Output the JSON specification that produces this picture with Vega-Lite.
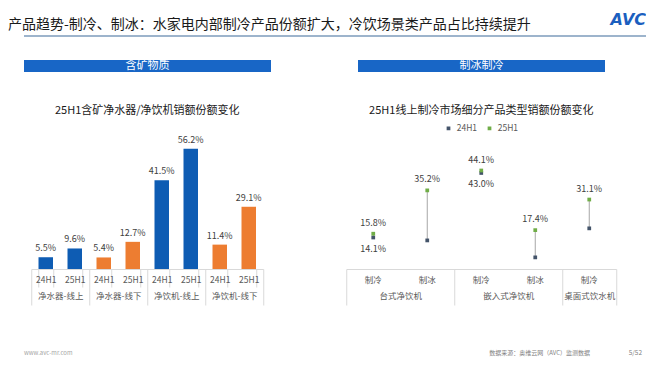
{
  "$schema": "https://vega.github.io/schema/vega-lite/v6.json",
  "background": "white",
  "padding": {"left": 8, "top": 12, "right": 0, "bottom": 0},
  "title": {"text": "产品趋势-制冷、制冰：水家电内部制冷产品份额扩大，冷饮场景类产品占比持续提升", "anchor": "start", "dx": -16, "fontSize": 14, "offset": -20, "color": "#1a1a1a", "fontWeight": "normal"},
  "config": {
    "view": {"stroke": null},
    "font": "Noto Sans CJK SC",
    "title": {"font": "Noto Sans CJK SC", "fontWeight": "normal", "color": "#1a1a1a"},
    "axis": {"labelFont": "Noto Sans CJK SC"},
    "legend": {"layout": {"top": {"anchor": "middle"}}}
  },
  "spacing": 23,
  "resolve": {"scale": {"color": "independent"}, "legend": {"color": "independent"}},
  "vconcat": [
    {
      "width": 622,
      "height": 2,
      "data": {"values": [{"logo": "AVC"}]},
      "layer": [
        {"mark": {"type": "rect", "color": "#9db4cc"}, "encoding": {}},
        {"mark": {"type": "text", "align": "right", "baseline": "middle", "dx": 311, "dy": -16, "fontSize": 16, "fontWeight": "bold", "fontStyle": "italic", "color": "#1b5fbf", "font": "DejaVu Sans"}, "encoding": {"text": {"field": "logo"}}}
      ]
    },
    {
      "spacing": 72,
      "resolve": {"scale": {"color": "independent"}, "legend": {"color": "independent"}},
      "hconcat": [
        {
          "spacing": 33,
          "center": true,
          "vconcat": [
            {
              "width": 247,
              "height": 12,
              "data": {"values": [{"t": "含矿物质"}]},
              "layer": [
                {"mark": {"type": "rect", "color": "#1866c6"}, "encoding": {}},
                {"mark": {"type": "text", "color": "white", "fontSize": 11, "baseline": "middle"}, "encoding": {"text": {"field": "t"}}}
              ]
            },
            {
              "width": 232,
              "height": 139,
              "title": {"text": "25H1含矿净水器/净饮机销额份额变化", "fontSize": 11, "offset": 14},
              "data": {"values": [
                {"group": "净水器-线上", "period": "24H1", "channel": "线上", "bar": "净水器-线上|24H1", "share": 0.055},
                {"group": "净水器-线上", "period": "25H1", "channel": "线上", "bar": "净水器-线上|25H1", "share": 0.096},
                {"group": "净水器-线下", "period": "24H1", "channel": "线下", "bar": "净水器-线下|24H1", "share": 0.054},
                {"group": "净水器-线下", "period": "25H1", "channel": "线下", "bar": "净水器-线下|25H1", "share": 0.127},
                {"group": "净饮机-线上", "period": "24H1", "channel": "线上", "bar": "净饮机-线上|24H1", "share": 0.415},
                {"group": "净饮机-线上", "period": "25H1", "channel": "线上", "bar": "净饮机-线上|25H1", "share": 0.562},
                {"group": "净饮机-线下", "period": "24H1", "channel": "线下", "bar": "净饮机-线下|24H1", "share": 0.114},
                {"group": "净饮机-线下", "period": "25H1", "channel": "线下", "bar": "净饮机-线下|25H1", "share": 0.291}
              ]},
              "layer": [
                {
                  "mark": {"type": "bar"},
                  "encoding": {
                    "x": {"field": "bar", "type": "nominal", "sort": null, "scale": {"type": "band", "paddingInner": 0.5, "paddingOuter": 0.25},
                      "axis": {"orient": "bottom", "title": null, "labelExpr": "split(datum.label, '|')[1]", "labelAngle": 0, "tickBand": "extent", "tickSize": 18, "tickColor": "#d9d9d9", "domainColor": "#d9d9d9", "labelPadding": -11.5, "labelFontSize": 8.5, "labelColor": "#595959"}},
                    "y": {"field": "share", "type": "quantitative", "scale": {"domain": [0, 0.63]}, "axis": null},
                    "color": {"field": "channel", "type": "nominal", "scale": {"domain": ["线上", "线下"], "range": ["#0e5cb3", "#ed7d31"]}, "legend": null}
                  }
                },
                {
                  "mark": {"type": "text", "dy": -4, "baseline": "bottom", "fontSize": 9, "color": "#404040"},
                  "encoding": {
                    "x": {"field": "bar", "type": "nominal", "sort": null, "scale": {"type": "band", "paddingInner": 0.5, "paddingOuter": 0.25}, "axis": null},
                    "y": {"field": "share", "type": "quantitative", "axis": null},
                    "text": {"field": "share", "type": "quantitative", "format": ".1%"}
                  }
                },
                {
                  "mark": {"type": "point", "opacity": 0},
                  "encoding": {
                    "x": {"field": "group", "type": "nominal", "sort": null, "scale": {"type": "band", "paddingInner": 0, "paddingOuter": 0},
                      "axis": {"orient": "bottom", "title": null, "labelAngle": 0, "tickBand": "extent", "tickSize": 36, "tickColor": "#d9d9d9", "domain": false, "labelPadding": -13.5, "labelFontSize": 8.5, "labelColor": "#595959"}},
                    "y": {"field": "share", "type": "quantitative", "axis": null}
                  }
                }
              ],
              "resolve": {"scale": {"x": "independent"}, "axis": {"x": "independent"}}
            }
          ]
        },
        {
          "spacing": 33,
          "center": true,
          "resolve": {"scale": {"color": "independent"}, "legend": {"color": "independent"}},
          "vconcat": [
            {
              "width": 247,
              "height": 12,
              "data": {"values": [{"t": "制冰制冷"}]},
              "layer": [
                {"mark": {"type": "rect", "color": "#1866c6"}, "encoding": {}},
                {"mark": {"type": "text", "color": "white", "fontSize": 11, "baseline": "middle"}, "encoding": {"text": {"field": "t"}}}
              ]
            },
            {
              "width": 270,
              "height": 134,
              "title": {"text": "25H1线上制冷市场细分产品类型销额份额变化", "fontSize": 11, "offset": 8},
              "data": {"values": [
                {"group": "台式净饮机", "type": "制冷", "key": "台式净饮机|制冷", "period": "24H1", "share": 0.141},
                {"group": "台式净饮机", "type": "制冰", "key": "台式净饮机|制冰", "period": "24H1", "share": 0.128},
                {"group": "嵌入式净饮机", "type": "制冷", "key": "嵌入式净饮机|制冷", "period": "24H1", "share": 0.430},
                {"group": "嵌入式净饮机", "type": "制冰", "key": "嵌入式净饮机|制冰", "period": "24H1", "share": 0.052},
                {"group": "桌面式饮水机", "type": "制冷", "key": "桌面式饮水机|制冷", "period": "24H1", "share": 0.182},
                {"group": "台式净饮机", "type": "制冷", "key": "台式净饮机|制冷", "period": "25H1", "share": 0.158},
                {"group": "台式净饮机", "type": "制冰", "key": "台式净饮机|制冰", "period": "25H1", "share": 0.352},
                {"group": "嵌入式净饮机", "type": "制冷", "key": "嵌入式净饮机|制冷", "period": "25H1", "share": 0.441},
                {"group": "嵌入式净饮机", "type": "制冰", "key": "嵌入式净饮机|制冰", "period": "25H1", "share": 0.174},
                {"group": "桌面式饮水机", "type": "制冷", "key": "桌面式饮水机|制冷", "period": "25H1", "share": 0.311}
              ]},
              "layer": [
                {
                  "mark": {"type": "rule", "color": "#a6a6a6", "strokeWidth": 1},
                  "encoding": {
                    "x": {"field": "key", "type": "nominal", "sort": null, "scale": {"type": "band", "paddingInner": 0, "paddingOuter": 0, "domain": ["台式净饮机|制冷", "台式净饮机|制冰", "嵌入式净饮机|制冷", "嵌入式净饮机|制冰", "桌面式饮水机|制冷"]},
                      "axis": {"orient": "bottom", "title": null, "labelExpr": "split(datum.label, '|')[1]", "labelAngle": 0, "ticks": false, "domainColor": "#d9d9d9", "labelPadding": 6, "labelFontSize": 8.5, "labelColor": "#595959"}},
                    "y": {"aggregate": "min", "field": "share", "type": "quantitative", "scale": {"domain": [0, 0.6]}, "axis": null},
                    "y2": {"aggregate": "max", "field": "share"}
                  }
                },
                {
                  "mark": {"type": "square", "size": 14, "opacity": 1},
                  "encoding": {
                    "x": {"field": "key", "type": "nominal", "sort": null, "scale": {"type": "band", "paddingInner": 0, "paddingOuter": 0, "domain": ["台式净饮机|制冷", "台式净饮机|制冰", "嵌入式净饮机|制冷", "嵌入式净饮机|制冰", "桌面式饮水机|制冷"]}, "axis": null},
                    "y": {"field": "share", "type": "quantitative"},
                    "color": {"field": "period", "type": "nominal", "scale": {"domain": ["24H1", "25H1"], "range": ["#44546a", "#70ad47"]},
                      "legend": {"orient": "top", "title": null, "symbolType": "square", "symbolSize": 14, "labelFontSize": 8.5, "labelColor": "#595959", "columnPadding": 8, "offset": 2}}
                  }
                },
                {
                  "transform": [{"filter": {"field": "period", "equal": "25H1"}}],
                  "mark": {"type": "text", "dy": -11, "fontSize": 9, "color": "#404040"},
                  "encoding": {
                    "x": {"field": "key", "type": "nominal", "sort": null, "scale": {"type": "band", "paddingInner": 0, "paddingOuter": 0, "domain": ["台式净饮机|制冷", "台式净饮机|制冰", "嵌入式净饮机|制冷", "嵌入式净饮机|制冰", "桌面式饮水机|制冷"]}, "axis": null},
                    "y": {"field": "share", "type": "quantitative"},
                    "text": {"field": "share", "type": "quantitative", "format": ".1%"}
                  }
                },
                {
                  "transform": [{"filter": {"field": "period", "equal": "24H1"}}, {"filter": {"field": "key", "oneOf": ["台式净饮机|制冷", "嵌入式净饮机|制冷"]}}],
                  "mark": {"type": "text", "dy": 11, "fontSize": 9, "color": "#404040"},
                  "encoding": {
                    "x": {"field": "key", "type": "nominal", "sort": null, "scale": {"type": "band", "paddingInner": 0, "paddingOuter": 0, "domain": ["台式净饮机|制冷", "台式净饮机|制冰", "嵌入式净饮机|制冷", "嵌入式净饮机|制冰", "桌面式饮水机|制冷"]}, "axis": null},
                    "y": {"field": "share", "type": "quantitative"},
                    "text": {"field": "share", "type": "quantitative", "format": ".1%"}
                  }
                },
                {
                  "mark": {"type": "point", "opacity": 0},
                  "encoding": {
                    "x": {"datum": 0, "type": "quantitative", "scale": {"domain": [0, 5], "nice": false, "zero": false},
                      "axis": {"orient": "bottom", "values": [0, 2, 4, 5], "labels": false, "tickSize": 36, "tickColor": "#d9d9d9", "domain": false, "grid": false, "title": null}},
                    "y": {"field": "share", "type": "quantitative"}
                  }
                },
                {
                  "mark": {"type": "point", "opacity": 0},
                  "encoding": {
                    "x": {"datum": 0, "type": "quantitative", "scale": {"domain": [0, 5], "nice": false, "zero": false},
                      "axis": {"orient": "bottom", "values": [1, 3, 4.5], "ticks": false, "domain": false, "grid": false, "title": null, "labelExpr": "datum.value == 1 ? '台式净饮机' : datum.value == 3 ? '嵌入式净饮机' : '桌面式饮水机'", "labelPadding": 22.5, "labelFontSize": 8.5, "labelColor": "#595959", "labelFlush": false, "labelOverlap": false}},
                    "y": {"field": "share", "type": "quantitative"}
                  }
                }
              ],
              "resolve": {"scale": {"x": "independent"}, "axis": {"x": "independent"}}
            }
          ]
        }
      ]
    },
    {
      "width": 622,
      "height": 2,
      "data": {"values": [{"site": "www.avc-mr.com", "source": "数据来源：奥维云网（AVC）监测数据", "page": "5/52"}]},
      "layer": [
        {"mark": {"type": "text", "align": "left", "baseline": "middle", "fontSize": 6, "color": "#a6a6a6", "dx": -311, "dy": 23}, "encoding": {"text": {"field": "site"}}},
        {"mark": {"type": "text", "align": "right", "baseline": "middle", "fontSize": 6, "color": "#7f7f7f", "dx": 255, "dy": 23}, "encoding": {"text": {"field": "source"}}},
        {"mark": {"type": "text", "align": "right", "baseline": "middle", "fontSize": 6.5, "color": "#7f7f7f", "dx": 307, "dy": 23}, "encoding": {"text": {"field": "page"}}}
      ]
    }
  ]
}
